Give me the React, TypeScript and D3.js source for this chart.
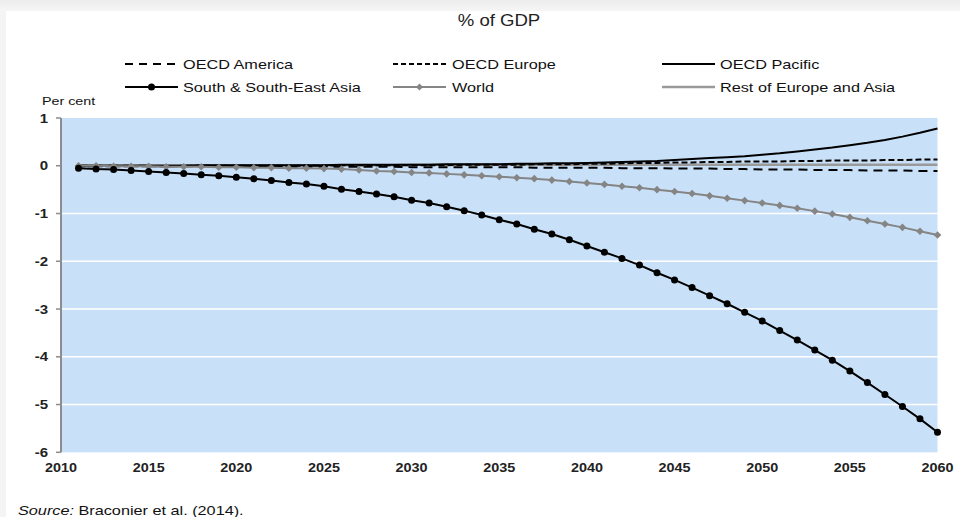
import React from "react";
import * as d3 from "d3";

const years: number[] = d3.range(2011, 2061);

const southAsia: number[] = [
  -0.05, -0.07, -0.08, -0.10, -0.12, -0.14, -0.16, -0.19, -0.21, -0.24,
  -0.27, -0.31, -0.35, -0.38, -0.43, -0.49, -0.54, -0.59, -0.65, -0.72,
  -0.78, -0.86, -0.94, -1.03, -1.13, -1.22, -1.33, -1.43, -1.55, -1.68,
  -1.81, -1.94, -2.08, -2.24, -2.39, -2.55, -2.72, -2.89, -3.07, -3.25,
  -3.45, -3.65, -3.86, -4.07, -4.30, -4.54, -4.79, -5.04, -5.30, -5.58,
];

const world: number[] = [
  0.00, 0.00, -0.01, -0.01, -0.01, -0.02, -0.02, -0.02, -0.03, -0.03,
  -0.04, -0.04, -0.05, -0.05, -0.06, -0.07, -0.09, -0.11, -0.12, -0.14,
  -0.15, -0.17, -0.19, -0.21, -0.23, -0.25, -0.27, -0.30, -0.33, -0.36,
  -0.39, -0.43, -0.46, -0.50, -0.54, -0.58, -0.63, -0.68, -0.73, -0.78,
  -0.83, -0.89, -0.95, -1.01, -1.08, -1.15, -1.22, -1.29, -1.37, -1.45,
];

const oecdPacific: number[] = [
  0.00, 0.00, 0.00, 0.00, 0.00, 0.00, 0.00, 0.01, 0.01, 0.01,
  0.01, 0.01, 0.01, 0.01, 0.01, 0.02, 0.02, 0.02, 0.02, 0.02,
  0.02, 0.03, 0.03, 0.03, 0.03, 0.04, 0.04, 0.05, 0.05, 0.06,
  0.07, 0.08, 0.09, 0.10, 0.12, 0.14, 0.16, 0.18, 0.20, 0.23,
  0.26, 0.30, 0.34, 0.38, 0.43, 0.48, 0.54, 0.61, 0.69, 0.78,
];

const oecdEurope: number[] = [
  -0.01, -0.01, -0.01, -0.01, -0.01, -0.01, 0.00, 0.00, 0.00, 0.00,
  0.00, 0.00, 0.00, 0.00, 0.00, 0.01, 0.01, 0.01, 0.01, 0.01,
  0.01, 0.01, 0.02, 0.02, 0.02, 0.02, 0.03, 0.03, 0.03, 0.04,
  0.04, 0.05, 0.06, 0.06, 0.07, 0.07, 0.08, 0.08, 0.09, 0.09,
  0.09, 0.10, 0.10, 0.11, 0.11, 0.11, 0.12, 0.12, 0.13, 0.13,
];

const oecdAmerica: number[] = [
  0.00, 0.00, 0.00, 0.00, 0.00, -0.01, -0.01, -0.01, -0.01, -0.01,
  -0.01, -0.01, -0.02, -0.02, -0.02, -0.02, -0.02, -0.02, -0.02, -0.03,
  -0.03, -0.03, -0.03, -0.03, -0.03, -0.03, -0.04, -0.04, -0.04, -0.04,
  -0.04, -0.05, -0.05, -0.05, -0.06, -0.06, -0.06, -0.07, -0.07, -0.08,
  -0.08, -0.08, -0.09, -0.09, -0.09, -0.10, -0.10, -0.10, -0.11, -0.11,
];

const restEuropeAsia: number[] = [
  0.01, 0.01, 0.01, 0.01, 0.01, 0.01, 0.01, 0.01, 0.01, 0.01,
  0.01, 0.01, 0.01, 0.01, 0.01, 0.01, 0.01, 0.01, 0.01, 0.02,
  0.02, 0.02, 0.02, 0.02, 0.02, 0.02, 0.02, 0.02, 0.02, 0.02,
  0.02, 0.02, 0.02, 0.02, 0.02, 0.02, 0.02, 0.02, 0.02, 0.02,
  0.02, 0.02, 0.02, 0.02, 0.02, 0.02, 0.02, 0.02, 0.02, 0.02,
];

const yTicks: number[] = [1, 0, -1, -2, -3, -4, -5, -6];
const xTicks: number[] = [2010, 2015, 2020, 2025, 2030, 2035, 2040, 2045, 2050, 2055, 2060];

const FONT = "Arial, 'Liberation Sans', sans-serif";

type TProps = {
  x: number;
  y: number;
  size: number;
  sx: number;
  anchor?: "start" | "middle" | "end";
  weight?: string;
  fill?: string;
  children: React.ReactNode;
};

function T({ x, y, size, sx, anchor = "start", weight = "normal", fill = "#111", children }: TProps) {
  return (
    <text
      transform={`translate(${x},${y}) scale(${sx},1)`}
      fontSize={size}
      textAnchor={anchor}
      fontWeight={weight}
      fill={fill}
    >
      {children}
    </text>
  );
}

export default function App() {
  const x = d3.scaleLinear().domain([2010, 2060]).range([61, 937.5]);
  const y = d3.scaleLinear().domain([-6, 1]).range([452.3, 118]);

  const line = (vals: number[]) =>
    d3.line<number>().x((_, i) => x(years[i])).y((v) => y(v))(vals) || "";

  const diamond = (cx: number, cy: number, r: number) =>
    `M${cx},${cy - r}L${cx + r},${cy}L${cx},${cy + r}L${cx - r},${cy}Z`;

  const legendRows = [
    { lx: 125, tx: 183, ly: 64, label: "OECD America", kind: "america" },
    { lx: 393, tx: 452, ly: 64, label: "OECD Europe", kind: "europe" },
    { lx: 662, tx: 720, ly: 64, label: "OECD Pacific", kind: "pacific" },
    { lx: 125, tx: 183, ly: 87, label: "South & South-East Asia", kind: "sse" },
    { lx: 393, tx: 452, ly: 87, label: "World", kind: "world" },
    { lx: 662, tx: 720, ly: 87, label: "Rest of Europe and Asia", kind: "rest" },
  ];

  const styleFor = (kind: string) => {
    switch (kind) {
      case "america":
        return { stroke: "#000", width: 2, dash: "8,6" };
      case "europe":
        return { stroke: "#000", width: 2, dash: "5,3" };
      case "pacific":
        return { stroke: "#000", width: 2, dash: undefined };
      case "sse":
        return { stroke: "#000", width: 2, dash: undefined };
      case "world":
        return { stroke: "#858585", width: 2, dash: undefined };
      default:
        return { stroke: "#9a9a9a", width: 2.5, dash: undefined };
    }
  };

  return (
    <svg
      width={960}
      height={517}
      style={{ position: "absolute", left: 0, top: 0, display: "block" }}
      fontFamily={FONT}
    >
      <defs>
        <linearGradient id="topShade" x1="0" y1="0" x2="0" y2="1">
          <stop offset="0" stopColor="#ececec" />
          <stop offset="1" stopColor="#f6f6f6" />
        </linearGradient>
      </defs>
      <rect x={0} y={0} width={960} height={517} fill="#f4f4f4" />
      <rect x={0} y={0} width={960} height={11} fill="url(#topShade)" />
      <rect x={6} y={11} width={954} height={506} fill="#ffffff" />

      <T x={499} y={26} size={16} sx={1.16} anchor="middle" fill="#222">
        % of GDP
      </T>

      {legendRows.map((r) => {
        const s = styleFor(r.kind);
        const lx2 = r.lx + 53;
        return (
          <g key={r.label}>
            <line
              x1={r.lx}
              x2={lx2}
              y1={r.ly}
              y2={r.ly}
              stroke={s.stroke}
              strokeWidth={s.width}
              strokeDasharray={s.dash}
            />
            {r.kind === "sse" && <circle cx={(r.lx + lx2) / 2} cy={r.ly} r={3.5} fill="#000" />}
            {r.kind === "world" && <path d={diamond((r.lx + lx2) / 2, r.ly, 3.5)} fill="#858585" />}
            <T x={r.tx} y={r.ly + 4.5} size={13} sx={1.25}>
              {r.label}
            </T>
          </g>
        );
      })}

      <T x={42} y={105} size={11} sx={1.3}>
        Per cent
      </T>

      <rect x={x(2010)} y={y(1)} width={x(2060) - x(2010)} height={y(-6) - y(1)} fill="#c9e1f8" />

      {yTicks
        .filter((t) => t !== 1 && t !== -6 && t !== 0)
        .map((t) => (
          <line key={t} x1={x(2010)} x2={x(2060)} y1={y(t)} y2={y(t)} stroke="#ffffff" strokeWidth={1.5} />
        ))}

      <line x1={x(2010)} x2={x(2010)} y1={y(1)} y2={y(-6)} stroke="#8c8c8c" strokeWidth={2} />
      {yTicks.map((t) => (
        <g key={t}>
          <line x1={x(2010) - 5} x2={x(2010)} y1={y(t)} y2={y(t)} stroke="#8c8c8c" strokeWidth={1.5} />
          <T x={48} y={y(t) + 4.5} size={12} sx={1.25} anchor="end" weight="bold" fill="#222">
            {t}
          </T>
        </g>
      ))}
      {xTicks.map((t) => (
        <T key={t} x={x(t)} y={472} size={12} sx={1.2} anchor="middle" weight="bold" fill="#222">
          {t}
        </T>
      ))}

      <path d={line(restEuropeAsia)} fill="none" stroke="#9a9a9a" strokeWidth={2.5} />
      <path d={line(oecdAmerica)} fill="none" stroke="#000" strokeWidth={2} strokeDasharray="9,6" />
      <path d={line(oecdEurope)} fill="none" stroke="#000" strokeWidth={2} strokeDasharray="6,3" />
      <path d={line(oecdPacific)} fill="none" stroke="#000" strokeWidth={2} />

      <path d={line(world)} fill="none" stroke="#858585" strokeWidth={2} />
      {world.map((v, i) => (
        <path key={i} d={diamond(x(years[i]), y(v), 3.8)} fill="#858585" />
      ))}

      <path d={line(southAsia)} fill="none" stroke="#000" strokeWidth={2} />
      {southAsia.map((v, i) => (
        <circle key={i} cx={x(years[i])} cy={y(v)} r={3.5} fill="#000" />
      ))}

      <T x={18} y={515} size={13} sx={1.25}>
        <tspan fontStyle="italic">Source:</tspan> Braconier et al. (2014).
      </T>
    </svg>
  );
}
